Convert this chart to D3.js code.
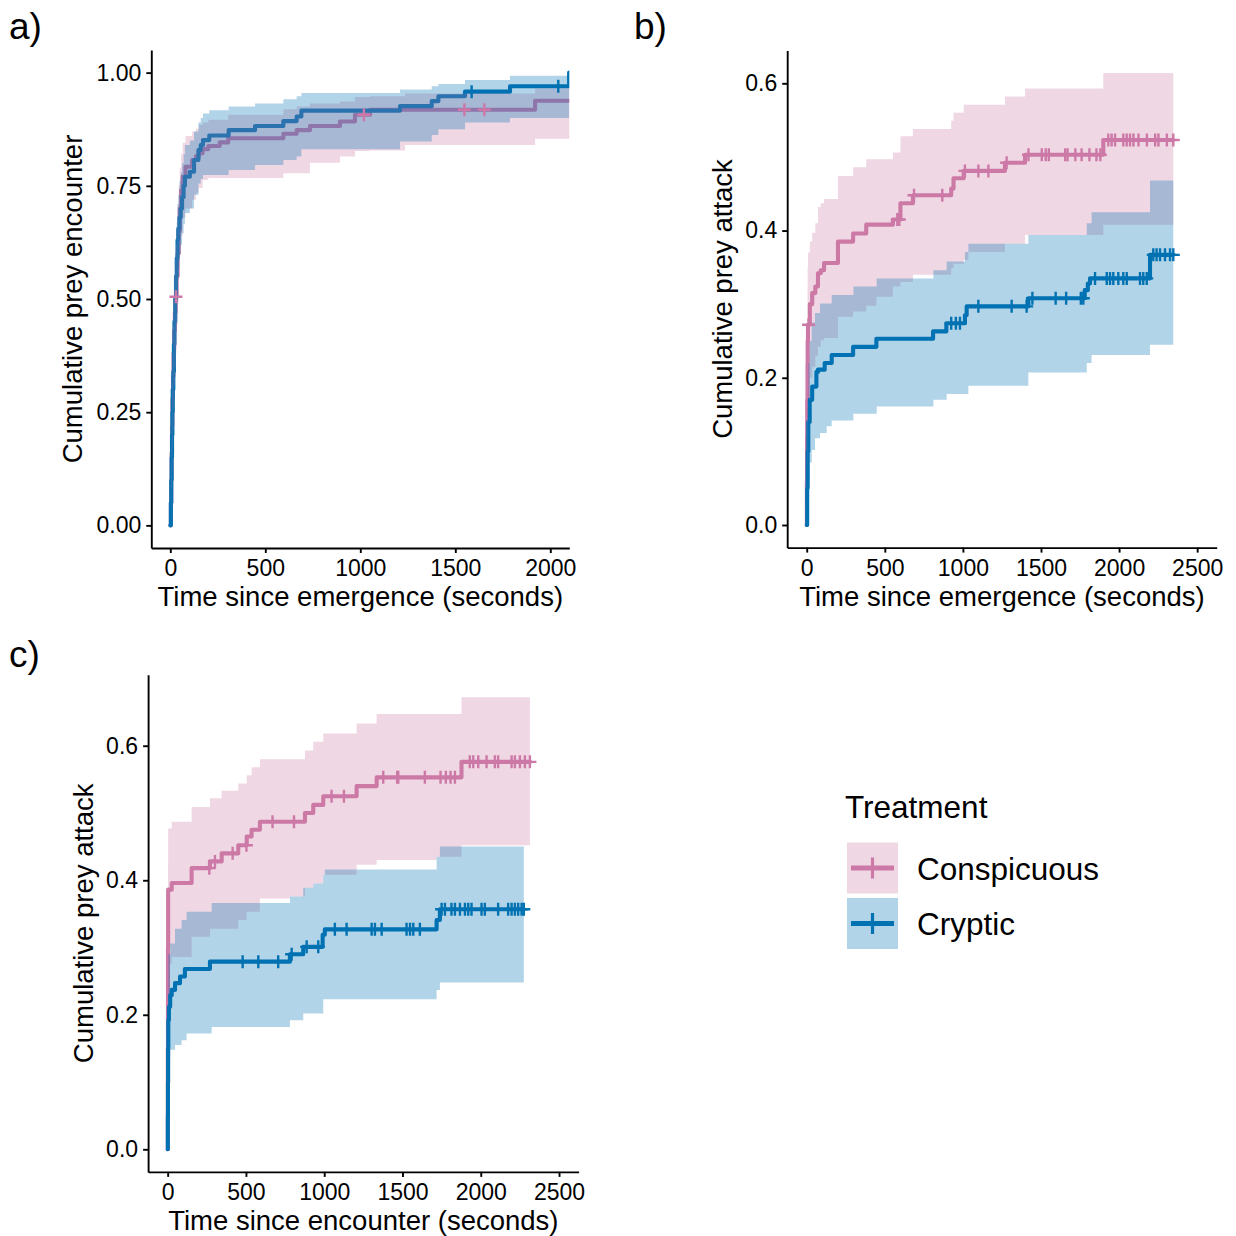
<!DOCTYPE html>
<html>
<head>
<meta charset="utf-8">
<script src="https://cdn.jsdelivr.net/npm/d3@7"></script>
<style>
  html, body { margin: 0; padding: 0; background: #ffffff; }
  svg { display: block; font-family: "Liberation Sans", Arial, Helvetica, sans-serif; }
</style>
</head>
<body>
<svg id="chart" width="1236" height="1236"></svg>
<script>
// ---------------------------------------------------------------
// Kaplan-Meier style cumulative incidence curves (1 - survival)
// Each series: step times + cumulative value, confidence band
// (its own step times, lower, upper) and censoring times.
// The last entry of each time array is the end of follow-up.
// ---------------------------------------------------------------

// ---- a) Time since emergence -> prey encounter ----
const encConspTime = [0, 3, 5, 7, 9, 11, 14, 17, 20, 24, 28, 33, 38, 44, 50, 57, 65, 80, 115, 135, 150, 170, 200, 260, 305, 595, 665, 735, 893, 972, 1051, 1920, 2150];
const encConspCum  = [0, 0.05, 0.10, 0.16, 0.22, 0.28, 0.33, 0.38, 0.43, 0.47, 0.505, 0.55, 0.60, 0.65, 0.70, 0.74, 0.77, 0.792, 0.807, 0.815, 0.822, 0.831, 0.838, 0.846, 0.855, 0.865, 0.873, 0.882, 0.892, 0.907, 0.918, 0.938, 0.938];
const encConspBandTime = [0, 3, 5, 7, 9, 11, 14, 17, 20, 24, 28, 33, 38, 44, 50, 57, 65, 80, 115, 135, 150, 170, 200, 305, 595, 665, 735, 893, 972, 1051, 1235, 1920, 2150];
const encConspLower = [0, 0.01, 0.04, 0.08, 0.12, 0.17, 0.21, 0.26, 0.31, 0.35, 0.39, 0.44, 0.49, 0.55, 0.60, 0.64, 0.68, 0.70, 0.719, 0.734, 0.745, 0.763, 0.767, 0.767, 0.778, 0.778, 0.801, 0.815, 0.827, 0.828, 0.84, 0.854, 0.854];
const encConspUpper = [0, 0.10, 0.17, 0.24, 0.31, 0.38, 0.44, 0.50, 0.55, 0.59, 0.62, 0.66, 0.71, 0.75, 0.79, 0.82, 0.845, 0.86, 0.87, 0.876, 0.885, 0.89, 0.896, 0.907, 0.919, 0.925, 0.932, 0.936, 0.946, 0.948, 0.954, 0.965, 0.965];
const encConspCensor = [30, 1019, 1548, 1653];

const encCrypTime = [0, 3, 5, 7, 9, 11, 13, 16, 19, 22, 26, 30, 34, 38, 42, 48, 55, 62, 70, 77, 103, 125, 148, 160, 172, 205, 307, 446, 595, 665, 690, 1209, 1376, 1411, 1551, 1788, 2099, 2150];
const encCrypCum  = [0, 0.05, 0.10, 0.15, 0.20, 0.25, 0.30, 0.34, 0.40, 0.45, 0.50, 0.55, 0.59, 0.63, 0.655, 0.68, 0.70, 0.725, 0.75, 0.77, 0.781, 0.807, 0.829, 0.84, 0.851, 0.861, 0.873, 0.882, 0.893, 0.903, 0.916, 0.926, 0.937, 0.948, 0.958, 0.970, 1.0, 1.0];
const encCrypBandTime = [0, 3, 5, 7, 9, 11, 13, 16, 19, 22, 26, 30, 34, 38, 42, 48, 55, 62, 70, 77, 103, 125, 148, 160, 172, 205, 307, 446, 595, 665, 690, 1209, 1376, 1411, 1551, 1788, 2099, 2150];
const encCrypLower = [0, 0.01, 0.05, 0.09, 0.13, 0.17, 0.21, 0.25, 0.31, 0.36, 0.41, 0.46, 0.50, 0.54, 0.57, 0.60, 0.62, 0.645, 0.665, 0.69, 0.70, 0.73, 0.755, 0.765, 0.774, 0.774, 0.785, 0.796, 0.807, 0.815, 0.831, 0.848, 0.862, 0.875, 0.89, 0.90, 1.0, 1.0];
const encCrypUpper = [0, 0.09, 0.16, 0.22, 0.27, 0.33, 0.39, 0.43, 0.49, 0.54, 0.59, 0.63, 0.67, 0.71, 0.73, 0.76, 0.78, 0.80, 0.82, 0.84, 0.85, 0.87, 0.89, 0.90, 0.91, 0.917, 0.925, 0.932, 0.941, 0.948, 0.955, 0.963, 0.97, 0.975, 0.984, 0.993, 1.0, 1.0];
const encCrypCensor = [1586, 2042];

// ---- b) Time since emergence -> prey attack ----
const atkEmConspTime = [0, 1, 2, 3, 5, 6, 8, 20, 35, 55, 72, 90, 111, 200, 297, 381, 552, 600, 680, 925, 940, 1005, 1269, 1398, 1899, 2347];
const atkEmConspCum  = [0, 0.06, 0.12, 0.17, 0.22, 0.25, 0.272, 0.30, 0.315, 0.324, 0.342, 0.346, 0.356, 0.385, 0.396, 0.408, 0.415, 0.437, 0.448, 0.457, 0.471, 0.481, 0.492, 0.503, 0.523, 0.523];
const atkEmConspBandTime = [0, 1, 2, 3, 5, 6, 8, 20, 35, 55, 72, 90, 111, 200, 297, 381, 446, 552, 600, 680, 925, 940, 1005, 1035, 1269, 1398, 1899, 2347];
const atkEmConspLower = [0, 0.01, 0.04, 0.08, 0.12, 0.15, 0.175, 0.20, 0.215, 0.23, 0.242, 0.251, 0.254, 0.283, 0.29, 0.298, 0.31, 0.324, 0.33, 0.34, 0.349, 0.355, 0.36, 0.371, 0.382, 0.394, 0.408, 0.408];
const atkEmConspUpper = [0, 0.12, 0.22, 0.28, 0.32, 0.35, 0.37, 0.385, 0.397, 0.41, 0.432, 0.437, 0.443, 0.474, 0.486, 0.497, 0.497, 0.506, 0.528, 0.538, 0.549, 0.56, 0.571, 0.571, 0.582, 0.593, 0.614, 0.614];
const atkEmConspCensor = [12, 580, 593, 687, 868, 1013, 1099, 1163, 1280, 1420, 1505, 1530, 1550, 1655, 1670, 1720, 1760, 1810, 1855, 1880, 1931, 1952, 1974, 2027, 2049, 2070, 2092, 2124, 2178, 2231, 2252, 2306, 2347];

const atkEmCrypTime = [0, 3, 6, 10, 19, 35, 62, 72, 115, 160, 297, 446, 809, 894, 1013, 1024, 1419, 1780, 1800, 1814, 2198, 2347];
const atkEmCrypCum  = [0, 0.05, 0.10, 0.14, 0.17, 0.188, 0.208, 0.211, 0.22, 0.231, 0.242, 0.253, 0.263, 0.274, 0.285, 0.297, 0.308, 0.319, 0.328, 0.335, 0.367, 0.367];
const atkEmCrypBandTime = [0, 3, 6, 11, 19, 32, 53, 85, 128, 160, 299, 448, 811, 896, 1013, 1035, 1419, 1793, 1824, 2198, 2347];
const atkEmCrypLower = [0, 0.01, 0.03, 0.06, 0.085, 0.102, 0.118, 0.125, 0.134, 0.142, 0.151, 0.161, 0.17, 0.178, 0.178, 0.189, 0.207, 0.22, 0.231, 0.245, 0.245];
const atkEmCrypUpper = [0, 0.09, 0.16, 0.22, 0.25, 0.275, 0.288, 0.301, 0.301, 0.3125, 0.324, 0.335, 0.346, 0.358, 0.371, 0.382, 0.394, 0.41, 0.425, 0.468, 0.468];
const atkEmCrypCensor = [925, 955, 981, 1099, 1312, 1408, 1445, 1594, 1661, 1755, 1771, 1846, 1921, 1942, 1963, 1995, 2027, 2049, 2134, 2155, 2177, 2219, 2240, 2262, 2294, 2326, 2347];

// ---- c) Time since encounter -> prey attack ----
const atkEnConspTime = [0, 1, 2, 3, 26, 153, 270, 345, 451, 505, 536, 589, 877, 930, 994, 1207, 1335, 1877, 2314];
const atkEnConspCum  = [0, 0.15, 0.30, 0.386, 0.396, 0.418, 0.428, 0.44, 0.452, 0.465, 0.475, 0.487, 0.5, 0.512, 0.525, 0.54, 0.553, 0.576, 0.576];
const atkEnConspBandTime = [0, 1, 2, 3, 26, 153, 270, 345, 451, 505, 536, 589, 781, 877, 930, 994, 1207, 1335, 1718, 1877, 2314];
const atkEnConspLower = [0, 0.05, 0.18, 0.276, 0.286, 0.316, 0.328, 0.328, 0.341, 0.353, 0.353, 0.373, 0.376, 0.389, 0.395, 0.408, 0.423, 0.43, 0.435, 0.452, 0.452];
const atkEnConspUpper = [0, 0.25, 0.42, 0.477, 0.487, 0.509, 0.522, 0.533, 0.544, 0.556, 0.568, 0.58, 0.58, 0.593, 0.606, 0.618, 0.633, 0.647, 0.647, 0.672, 0.672];
const atkEnConspCensor = [266, 302, 415, 503, 670, 807, 1047, 1126, 1377, 1466, 1473, 1643, 1743, 1777, 1807, 1835, 1930, 1952, 1984, 2037, 2090, 2111, 2197, 2218, 2250, 2282, 2314];

const atkEnCrypTime = [0, 1, 2, 3, 4, 8, 16, 26, 47, 79, 110, 270, 781, 866, 990, 1004, 1718, 1739, 2275];
const atkEnCrypCum  = [0, 0.05, 0.10, 0.15, 0.192, 0.212, 0.229, 0.237, 0.247, 0.257, 0.268, 0.279, 0.29, 0.301, 0.319, 0.327, 0.341, 0.357, 0.357];
const atkEnCrypBandTime = [0, 1, 2, 3, 4, 16, 47, 89, 121, 281, 781, 866, 930, 994, 1004, 1718, 1739, 2275];
const atkEnCrypLower = [0, 0.02, 0.05, 0.09, 0.135, 0.148, 0.155, 0.162, 0.172, 0.182, 0.192, 0.202, 0.202, 0.223, 0.223, 0.237, 0.248, 0.248];
const atkEnCrypUpper = [0, 0.09, 0.16, 0.23, 0.29, 0.306, 0.328, 0.341, 0.353, 0.366, 0.376, 0.389, 0.395, 0.408, 0.416, 0.435, 0.45, 0.45];
const atkEnCrypCensor = [479, 579, 706, 792, 888, 962, 1068, 1143, 1303, 1324, 1367, 1526, 1548, 1569, 1611, 1750, 1771, 1813, 1835, 1867, 1899, 1920, 1941, 2005, 2026, 2111, 2175, 2197, 2218, 2239, 2261, 2275];

// ---- axis ticks and legend ----
const encXTicks = [0, 500, 1000, 1500, 2000];
const encYTicks = [0, 0.25, 0.5, 0.75, 1.0];
const atkXTicks = [0, 500, 1000, 1500, 2000, 2500];
const atkYTicks = [0, 0.2, 0.4, 0.6];
const treatments = ["Conspicuous", "Cryptic"];
const treatmentColors = ["#CC79A7", "#0072B2"];

// ---------------------------------------------------------------
const color = d3.scaleOrdinal().domain(treatments).range(treatmentColors);

function makeSeries(name, time, cum, bandTime, lower, upper, censor) {
  return {
    name,
    line: time.map((t, i) => ({ t, v: cum[i] })),
    band: bandTime.map((t, i) => ({ t, lo: lower[i], hi: upper[i] })),
    censor
  };
}

const panels = [
  {
    label: "a)", labelX: 9, labelY: 39,
    xDomain: [-100, 2100], xRange: [151.3, 569.3],
    yDomain: [-0.05, 1.05], yRange: [548, 50],
    xTicks: encXTicks, yTicks: encYTicks, yFmt: d3.format(".2f"),
    xTitle: "Time since emergence (seconds)",
    yTitle: "Cumulative prey encounter", yTitleX: 82,
    series: [
      makeSeries("Conspicuous", encConspTime, encConspCum, encConspBandTime, encConspLower, encConspUpper, encConspCensor),
      makeSeries("Cryptic", encCrypTime, encCrypCum, encCrypBandTime, encCrypLower, encCrypUpper, encCrypCensor)
    ]
  },
  {
    label: "b)", labelX: 634, labelY: 39,
    xDomain: [-125, 2625], xRange: [787.2, 1216.7],
    yDomain: [-0.0307, 0.6447], yRange: [547.6, 50.4],
    xTicks: atkXTicks, yTicks: atkYTicks, yFmt: d3.format(".1f"),
    xTitle: "Time since emergence (seconds)",
    yTitle: "Cumulative prey attack", yTitleX: 732,
    series: [
      makeSeries("Conspicuous", atkEmConspTime, atkEmConspCum, atkEmConspBandTime, atkEmConspLower, atkEmConspUpper, atkEmConspCensor),
      makeSeries("Cryptic", atkEmCrypTime, atkEmCrypCum, atkEmCrypBandTime, atkEmCrypLower, atkEmCrypUpper, atkEmCrypCensor)
    ]
  },
  {
    label: "c)", labelX: 9, labelY: 667,
    xDomain: [-125, 2625], xRange: [148.1, 578.6],
    yDomain: [-0.0336, 0.7056], yRange: [1171.9, 674.7],
    xTicks: atkXTicks, yTicks: atkYTicks, yFmt: d3.format(".1f"),
    xTitle: "Time since encounter (seconds)",
    yTitle: "Cumulative prey attack", yTitleX: 93,
    series: [
      makeSeries("Conspicuous", atkEnConspTime, atkEnConspCum, atkEnConspBandTime, atkEnConspLower, atkEnConspUpper, atkEnConspCensor),
      makeSeries("Cryptic", atkEnCrypTime, atkEnCrypCum, atkEnCrypBandTime, atkEnCrypLower, atkEnCrypUpper, atkEnCrypCensor)
    ]
  }
];

const svg = d3.select("#chart");
const defs = svg.append("defs");

const LINE_W = 4.1;
const CENSOR_ARM = 6.5;

panels.forEach((p, pi) => {
  const x = d3.scaleLinear().domain(p.xDomain).range(p.xRange);
  const y = d3.scaleLinear().domain(p.yDomain).range(p.yRange);
  const g = svg.append("g");

  const clipId = "clip" + pi;
  defs.append("clipPath").attr("id", clipId)
    .append("rect")
    .attr("x", p.xRange[0]).attr("y", p.yRange[1])
    .attr("width", p.xRange[1] - p.xRange[0])
    .attr("height", p.yRange[0] - p.yRange[1]);

  const plot = g.append("g").attr("clip-path", `url(#${clipId})`);

  const line = d3.line().x(d => x(d.t)).y(d => y(d.v)).curve(d3.curveStepAfter);
  const area = d3.area().x(d => x(d.t)).y0(d => y(d.lo)).y1(d => y(d.hi)).curve(d3.curveStepAfter);

  // step lines
  plot.selectAll(".km-line").data(p.series).join("path")
    .attr("class", "km-line")
    .attr("d", s => line(s.line))
    .attr("fill", "none")
    .attr("stroke", s => color(s.name))
    .attr("stroke-width", LINE_W)
    .attr("stroke-linejoin", "round")
    .attr("stroke-linecap", "round");

  // confidence bands
  plot.selectAll(".km-band").data(p.series).join("path")
    .attr("class", "km-band")
    .attr("d", s => area(s.band))
    .attr("fill", s => color(s.name))
    .attr("fill-opacity", 0.3)
    .attr("stroke", "none");

  // censoring marks
  p.series.forEach(s => {
    const times = s.line.map(d => d.t);
    const valueAt = t => s.line[Math.max(0, d3.bisectRight(times, t) - 1)].v;
    plot.append("g").selectAll("path").data(s.censor).join("path")
      .attr("d", t => {
        const cx = x(t), cy = y(valueAt(t));
        return `M${cx - CENSOR_ARM},${cy}H${cx + CENSOR_ARM}M${cx},${cy - CENSOR_ARM}V${cy + CENSOR_ARM}`;
      })
      .attr("stroke", color(s.name))
      .attr("stroke-width", 2.4)
      .attr("fill", "none");
  });

  // axes
  const xAxis = d3.axisBottom(x).tickValues(p.xTicks).tickFormat(d3.format("d"))
    .tickSize(5).tickSizeOuter(0).tickPadding(7);
  const yAxis = d3.axisLeft(y).tickValues(p.yTicks).tickFormat(p.yFmt)
    .tickSize(5).tickSizeOuter(0).tickPadding(5);

  const gx = g.append("g").attr("transform", `translate(0,${p.yRange[0]})`).call(xAxis);
  const gy = g.append("g").attr("transform", `translate(${p.xRange[0]},0)`).call(yAxis);
  [gx, gy].forEach(ax => {
    ax.select(".domain").attr("stroke", "#000").attr("stroke-width", 1.9);
    ax.selectAll(".tick line").attr("stroke", "#000").attr("stroke-width", 1.9);
    ax.selectAll(".tick text").attr("fill", "#000")
      .style("font-size", "23px").style("font-family", '"Liberation Sans", Arial, sans-serif');
  });

  // axis titles
  g.append("text")
    .attr("x", (p.xRange[0] + p.xRange[1]) / 2)
    .attr("y", p.yRange[0] + 58)
    .attr("text-anchor", "middle")
    .style("font-size", "27.5px")
    .text(p.xTitle);

  g.append("text")
    .attr("transform", `translate(${p.yTitleX},${(p.yRange[0] + p.yRange[1]) / 2}) rotate(-90)`)
    .attr("text-anchor", "middle")
    .style("font-size", "27.5px")
    .text(p.yTitle);

  // panel tag
  g.append("text")
    .attr("x", p.labelX).attr("y", p.labelY)
    .style("font-size", "37px")
    .text(p.label);
});

// ---- legend ----
const legend = svg.append("g");
legend.append("text")
  .attr("x", 845).attr("y", 818)
  .style("font-size", "31.5px")
  .text("Treatment");

const keyX = 847, keyW = 51, keyH = 51, keyY0 = 842.5, keyStep = 55.5;
const keys = legend.selectAll(".key").data(treatments).join("g")
  .attr("class", "key")
  .attr("transform", (d, i) => `translate(${keyX},${keyY0 + i * keyStep})`);

keys.append("rect")
  .attr("width", keyW).attr("height", keyH)
  .attr("fill", d => color(d)).attr("fill-opacity", 0.3);
keys.append("path")
  .attr("d", `M4,${keyH / 2}H${keyW - 4}`)
  .attr("stroke", d => color(d)).attr("stroke-width", 5);
keys.append("path")
  .attr("d", `M${keyW / 2},${keyH / 2 - 10.5}V${keyH / 2 + 10.5}`)
  .attr("stroke", d => color(d)).attr("stroke-width", 3.2);
keys.append("text")
  .attr("x", 70).attr("y", keyH / 2 + 11.5)
  .style("font-size", "31.5px")
  .text(d => d);
</script>
</body>
</html>
